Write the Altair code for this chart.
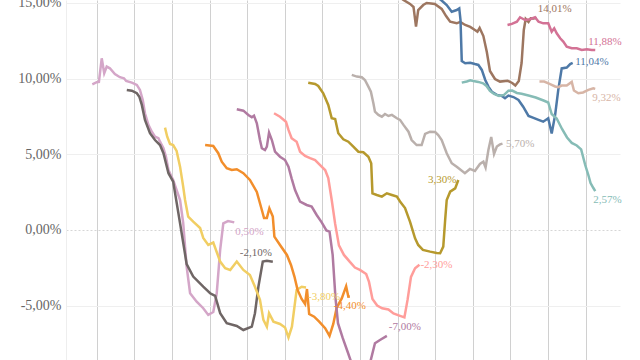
import altair as alt
import pandas as pd

# ---- data (x = month index, y = value in %) ----
lilac_m = [-1.4, 0, 0.7, 1.6, 2.4, 3.2, 4.2, 5.8, 7.4, 8.7, 9.4, 11.2, 12.8, 13.8, 14.7, 15.4, 16.5, 17.6, 18.6, 19.7, 20.2, 21.3, 22.1, 22.9, 23.9, 24.4, 26.6, 27.6, 28.7, 29.8, 31.9, 34.0, 35.6, 37.2, 38.3, 39.4, 40.4, 41.9, 43.9]
lilac_v = [9.62, 9.76, 9.78, 11.34, 10.35, 10.79, 10.68, 10.30, 10.09, 10.02, 9.84, 9.73, 9.58, 9.25, 8.59, 7.71, 6.94, 6.49, 6.16, 6.06, 5.83, 5.40, 4.84, 3.96, 3.52, 3.30, 1.98, 0.46, -2.42, -4.18, -4.74, -5.17, -5.61, -5.42, -4.18, -1.32, 0.44, 0.59, 0.50]

black_m = [9.6, 11.2, 12.8, 13.6, 14.4, 15.4, 17.0, 18.6, 20.2, 21.3, 22.9, 24.4, 26.6, 28.7, 30.8, 34.0, 36.2, 37.8, 39.4, 41.5, 44.7, 46.8, 49.5, 50.5, 51.6, 53.0, 54.3, 56.2]
black_v = [9.25, 9.20, 9.03, 8.80, 8.26, 7.27, 6.39, 5.94, 5.61, 5.07, 3.75, 3.19, 0.44, -2.25, -3.08, -3.75, -4.18, -4.36, -5.50, -6.16, -6.34, -6.61, -6.39, -5.50, -3.75, -2.09, -2.03, -2.10]

yellow_m = [21.8, 22.5, 23.4, 24.4, 25.5, 26.6, 27.6, 28.2, 29.2, 30.8, 33.0, 34.0, 35.6, 37.2, 39.4, 41.0, 42.6, 44.7, 46.8, 48.9, 50.5, 52.1, 53.2, 54.3, 55.0, 56.4, 58.5, 60.1, 61.2, 62.3, 63.8, 65.4, 66.8]
yellow_v = [6.76, 6.16, 5.68, 5.61, 5.22, 4.18, 2.86, 1.98, 0.88, 0.55, 0.13, -0.53, -0.99, -0.83, -2.09, -2.53, -2.64, -2.09, -2.64, -2.97, -3.75, -4.62, -5.94, -6.39, -5.50, -6.06, -6.21, -6.44, -7.10, -6.39, -3.96, -3.75, -3.80]

orange_m = [34.6, 37.2, 38.8, 39.9, 41.5, 43.1, 44.7, 46.8, 48.9, 51.1, 52.7, 53.4, 54.3, 55.1, 56.2, 56.7, 58.5, 60.7, 62.0, 63.1, 64.1, 65.4, 66.5, 67.1, 67.8, 69.4, 71.0, 72.9, 74.3, 75.5, 76.6, 78.2, 79.6, 80.3, 80.8]
orange_v = [5.61, 5.55, 5.07, 4.51, 4.08, 3.96, 4.01, 3.75, 3.30, 2.51, 1.32, 0.79, 0.79, 1.43, 0.88, -0.44, -0.99, -1.65, -2.31, -3.08, -3.96, -4.56, -4.89, -3.90, -5.55, -5.73, -6.06, -6.49, -7.00, -6.21, -5.12, -4.52, -3.72, -4.41, -4.40]

purple_m = [44.7, 46.8, 48.4, 49.5, 50.2, 51.1, 52.1, 52.7, 53.7, 54.3, 55.0, 55.9, 56.9, 58.5, 60.1, 61.2, 62.2, 63.3, 64.9, 67.0, 68.6, 70.2, 71.8, 73.3, 74.3, 75.3, 76.2, 77.0, 78.5, 80.1, 81.2, 84.0, 86.5, 88.8, 90.4, 92.6]
purple_v = [7.97, 7.88, 7.60, 7.44, 7.55, 7.05, 5.94, 5.40, 5.28, 5.50, 6.43, 5.94, 5.17, 4.84, 4.62, 4.18, 3.41, 2.64, 1.87, 1.65, 1.54, 0.99, 0.50, -0.03, -0.11, -1.65, -4.49, -6.16, -7.13, -8.06, -8.72, -9.6, -9.4, -7.48, -7.27, -7.00]

salmon_m = [56.6, 58.5, 60.4, 61.2, 62.2, 63.8, 64.9, 66.5, 68.1, 69.7, 71.3, 72.9, 73.9, 75.0, 76.1, 77.3, 78.9, 80.8, 82.4, 84.0, 86.0, 86.9, 88.0, 89.5, 91.1, 93.1, 94.7, 96.8, 98.2, 99.2, 100.3, 101.6, 103.0]
salmon_v = [7.71, 7.48, 7.15, 6.61, 6.06, 5.83, 5.17, 4.89, 4.74, 4.62, 4.29, 3.96, 3.43, 1.98, 0.40, -1.02, -1.65, -2.11, -2.48, -2.64, -2.91, -3.43, -4.56, -4.99, -5.17, -5.25, -5.52, -5.68, -5.78, -4.62, -3.10, -2.53, -2.30]

olive_m = [67.5, 69.7, 70.7, 72.3, 73.9, 75.0, 76.1, 77.1, 78.7, 80.3, 81.9, 83.5, 85.1, 86.7, 87.6, 88.0, 89.4, 91.0, 92.6, 94.2, 95.8, 96.8, 98.4, 100.0, 101.6, 102.6, 104.1, 106.4, 108.5, 109.6, 110.6, 111.2, 111.7, 112.8, 114.4, 115.4]
olive_v = [9.73, 9.64, 9.51, 9.03, 8.26, 7.38, 7.33, 6.39, 5.99, 5.83, 5.50, 5.17, 5.13, 4.84, 4.41, 2.42, 2.31, 2.20, 2.42, 2.31, 2.20, 1.88, 1.45, 0.53, -0.55, -0.99, -1.32, -1.43, -1.52, -1.54, -1.10, 0.66, 1.98, 2.53, 2.75, 3.30]

beige_m = [81.4, 83.0, 84.6, 85.6, 86.7, 87.5, 88.3, 88.8, 89.9, 91.0, 92.0, 93.1, 94.2, 95.8, 96.8, 97.9, 99.5, 100.5, 102.1, 103.7, 104.8, 106.4, 108.0, 109.0, 110.1, 111.7, 113.3, 115.0, 117.5, 119.1, 120.7, 122.3, 123.4, 124.1, 125.0, 125.9, 126.8, 127.7, 128.7, 129.5]
beige_v = [10.24, 10.13, 10.09, 9.91, 9.47, 9.13, 8.37, 7.81, 7.60, 7.48, 7.66, 7.53, 7.60, 7.38, 7.27, 6.94, 6.49, 5.94, 5.61, 5.61, 6.34, 6.49, 6.47, 6.27, 5.94, 5.07, 4.41, 4.16, 3.75, 4.03, 3.90, 4.36, 4.51, 4.13, 5.28, 6.14, 5.02, 5.51, 5.65, 5.70]

brown_m = [94.0, 96.0, 97.9, 100.0, 101.1, 101.9, 102.6, 104.2, 105.3, 106.7, 107.9, 110.1, 111.5, 112.8, 114.9, 116.0, 117.6, 119.2, 120.7, 121.5, 122.2, 123.4, 124.5, 125.5, 127.1, 128.7, 131.1, 132.6, 133.6, 134.7, 135.6, 136.3, 136.9, 137.8, 138.5, 139.4, 140.4]
brown_v = [15.9, 15.5, 15.19, 14.93, 14.73, 13.43, 14.53, 14.86, 14.99, 14.96, 14.93, 14.60, 14.13, 13.76, 13.65, 13.74, 13.54, 13.41, 13.21, 13.10, 13.34, 12.81, 11.76, 10.50, 9.97, 9.80, 9.86, 9.71, 9.54, 9.84, 11.03, 13.21, 13.94, 13.74, 13.98, 13.97, 14.01]

blue_m = [104.0, 107.0, 109.9, 111.7, 113.3, 114.9, 115.7, 116.1, 116.5, 117.6, 119.2, 120.7, 121.8, 122.9, 124.0, 125.0, 126.1, 127.7, 129.3, 130.3, 131.4, 133.0, 134.6, 136.1, 137.8, 139.4, 141.0, 142.5, 144.1, 145.2, 146.3, 147.3, 148.4, 150.0, 151.1, 151.9]
blue_v = [16.0, 15.6, 15.19, 14.86, 14.42, 14.53, 14.64, 13.87, 11.16, 11.01, 11.05, 10.96, 10.90, 10.57, 9.91, 9.47, 9.13, 8.92, 8.85, 8.70, 8.88, 8.78, 8.59, 8.14, 7.53, 7.40, 7.27, 7.15, 7.38, 6.37, 7.60, 9.25, 10.67, 10.73, 10.96, 11.04]

teal_m = [116.5, 118.1, 119.2, 120.2, 121.8, 123.3, 124.4, 125.5, 126.8, 128.4, 130.0, 131.4, 132.6, 134.1, 135.6, 137.8, 140.1, 142.6, 144.1, 145.2, 146.8, 148.5, 150.1, 151.6, 153.2, 154.6, 155.9, 156.9, 157.6, 158.5, 159.1]
teal_v = [9.73, 9.81, 9.89, 9.84, 9.78, 9.69, 9.51, 9.18, 8.98, 8.85, 8.92, 9.20, 9.21, 9.05, 9.00, 8.88, 8.75, 8.55, 8.42, 7.66, 7.36, 6.67, 6.11, 5.75, 5.58, 5.32, 4.29, 3.63, 3.10, 2.77, 2.57]

pink_m = [131.1, 132.5, 134.1, 135.1, 136.7, 138.3, 139.9, 141.0, 142.5, 144.1, 145.2, 146.0, 146.8, 147.9, 148.9, 150.0, 151.6, 153.2, 154.8, 156.4, 158.0, 159.1]
pink_v = [13.54, 13.61, 13.76, 14.05, 13.87, 13.92, 14.05, 13.76, 13.65, 13.65, 13.10, 13.32, 12.99, 12.66, 12.44, 12.11, 12.00, 12.00, 11.89, 11.94, 11.89, 11.88]

tan_m = [141.3, 142.8, 144.7, 146.3, 147.3, 148.4, 150.0, 151.6, 152.3, 153.7, 155.2, 156.9, 158.5, 159.1]
tan_v = [9.80, 9.80, 9.64, 9.48, 9.43, 9.54, 9.54, 9.78, 9.21, 9.03, 9.08, 9.25, 9.35, 9.32]

series_names = ["S1", "S2", "S3", "S4", "S5", "S6", "S7", "S8", "S9", "S10", "S11", "S12", "S13"]
series_m = [lilac_m, black_m, yellow_m, orange_m, purple_m, salmon_m, olive_m, beige_m, brown_m, blue_m, teal_m, pink_m, tan_m]
series_v = [lilac_v, black_v, yellow_v, orange_v, purple_v, salmon_v, olive_v, beige_v, brown_v, blue_v, teal_v, pink_v, tan_v]
end_labels = ["0,50%", "-2,10%", "-3,80%", "-4,40%", "-7,00%", "-2,30%", "3,30%", "5,70%", "14,01%", "11,04%", "2,57%", "11,88%", "9,32%"]
colors = ["#d4a6c8", "#6f6665", "#f1ce63", "#f28e2b", "#b07aa1", "#ff9d9a", "#b6992d", "#bab0ac", "#9d7660", "#4e79a7", "#86bcb6", "#d37295", "#d7b5a6"]

# label placement (align, dx, dy) per series
label_style = [
    ("left", 1, 10), ("right", -1, -9), ("left", 2, 9.5), ("center", 0, 9.5),
    ("left", 2, -9), ("left", 1, 0), ("right", -2, 0), ("left", 3.5, 0),
    ("left", 1, -8.5), ("left", 2.5, -1), ("left", -2, 9), ("left", -7, -8.5),
    ("left", -3, 9.5),
]

rows = []
for name, ms, vs in zip(series_names, series_m, series_v):
    for i, (m, v) in enumerate(zip(ms, vs)):
        rows.append({"s": name, "m": m, "v": v, "i": i})
df = pd.DataFrame(rows)

x_enc = alt.X("m:Q",
              scale=alt.Scale(domain=[-9.8, 167.0], nice=False, zero=False),
              axis=alt.Axis(values=list(range(0, 157, 12)), grid=True, gridColor="#d0d0d0",
                            gridWidth=1, labels=False, ticks=False, domain=False, title=None))
y_enc = alt.Y("v:Q",
              scale=alt.Scale(domain=[-8.59, 15.19], nice=False, zero=False),
              axis=alt.Axis(values=[-5, 0, 5, 10, 15], grid=True,
                            gridColor=alt.condition("datum.value === 0", alt.value("#d6d6d6"), alt.value("#efefef")),
                            gridDash=alt.condition("datum.value === 0", alt.value([2, 2]), alt.value([])),
                            labelExpr="(datum.value < 0 ? '-' : '') + replace(format(abs(datum.value), '.2f'), '.', ',') + '%'",
                            labelFont="Liberation Serif", labelFontSize=14, labelColor="#666666",
                            labelPadding=5, ticks=False, domain=True, domainColor="#eeeeee",
                            title=None))

lines = alt.Chart(df).mark_line(strokeWidth=2.5, clip=True).encode(
    x=x_enc, y=y_enc,
    color=alt.Color("s:N", scale=alt.Scale(domain=series_names, range=colors), legend=None),
    detail="s:N",
    order="i:Q",
)

layers = [lines]
for name, ms, vs, lab, col, (al, dx, dy) in zip(series_names, series_m, series_v, end_labels, colors, label_style):
    ldf = pd.DataFrame({"m": [ms[-1]], "v": [vs[-1]], "t": [lab]})
    layers.append(
        alt.Chart(ldf).mark_text(align=al, dx=dx, dy=dy, baseline="middle",
                                 font="Liberation Serif", fontSize=11, color=col).encode(
            x=x_enc, y=y_enc, text="t:N")
    )

chart = alt.layer(*layers).properties(
    width=554, height=360,
    autosize=alt.AutoSizeParams(type="none"),
    padding={"left": 66, "top": 0, "right": 20, "bottom": 0},
    background="white",
).configure_view(stroke=None)

chart.save("out.html", embed_options={"renderer": "svg", "actions": False})
